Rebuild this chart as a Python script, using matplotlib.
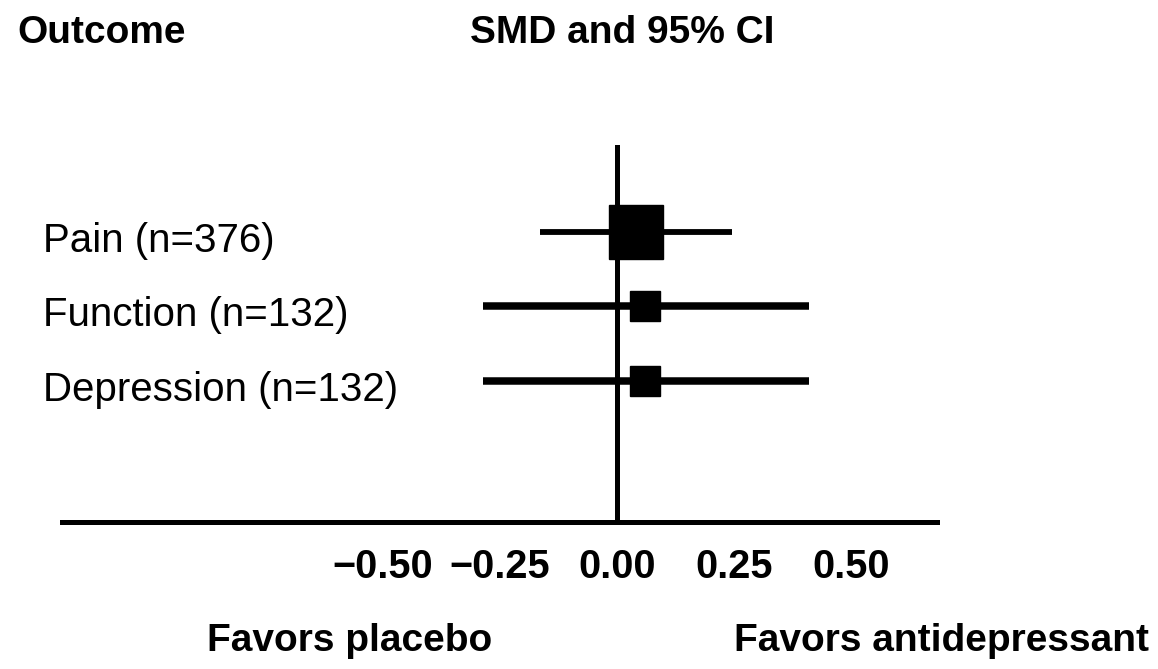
import matplotlib
matplotlib.use("Agg")
import matplotlib.pyplot as plt
from matplotlib.transforms import blended_transform_factory, ScaledTranslation

# ---- data ----
outcomes = ["Pain (n=376)", "Function (n=132)", "Depression (n=132)"]
smd = [0.04, 0.06, 0.06]
ci_low = [-0.165, -0.286, -0.286]
ci_high = [0.246, 0.41, 0.41]
tick_values = [-0.50, -0.25, 0.00, 0.25, 0.50]
tick_labels = ["\u22120.50", "\u22120.25", "0.00", "0.25", "0.50"]

# ---- style ----
rows = [3, 2, 1]
marker_sizes = [39, 22, 22]
ci_widths = [4.2, 5.4, 5.4]

W, H = 1158, 669
fig = plt.figure(figsize=(W / 100, H / 100), dpi=100)
ax = fig.add_axes([62 / W, 1 - 522 / H, (937 - 62) / W, (522 - 145) / H])

ax.set_xlim(-1.186, 0.684)
ax.set_ylim(-0.893, 4.168)

ax.axvline(0, color="black", lw=3.6, zorder=2)
for y, m, lo, hi, ms, lw in zip(rows, smd, ci_low, ci_high, marker_sizes, ci_widths):
    ax.plot([lo, hi], [y, y], color="black", lw=lw, solid_capstyle="butt", zorder=3)
    ax.plot([m], [y], marker="s", ms=ms, color="black", mec="black", zorder=4)

for s in ["top", "right", "left"]:
    ax.spines[s].set_visible(False)
ax.spines["bottom"].set_linewidth(3.6)
ax.set_yticks([])
ax.set_xticks(tick_values)
ax.set_xticklabels(tick_labels, fontsize=28.5, fontweight="bold",
                   family="Liberation Sans")
ax.tick_params(axis="x", length=0, pad=19)

tr = blended_transform_factory(fig.transFigure, ax.transData) + \
    ScaledTranslation(0, -0.20, fig.dpi_scale_trans)
for y, lab in zip(rows, outcomes):
    ax.text(43 / W, y, lab, transform=tr, ha="left", va="baseline",
            fontsize=29, family="Liberation Sans")

hdr = dict(fontsize=28, fontweight="bold", family="Liberation Sans")
fig.text(17 / W, 1 - 33 / H, "Outcome", ha="left", va="center", **hdr)
fig.text(622 / W, 1 - 33 / H, "SMD and 95% CI", ha="center", va="center", **hdr)
fig.text(350 / W, 1 - 641 / H, "Favors placebo", ha="center", va="center", **hdr)
fig.text(941 / W, 1 - 641 / H, "Favors antidepressant", ha="center", va="center", **hdr)

fig.savefig("out.png", dpi=100)
